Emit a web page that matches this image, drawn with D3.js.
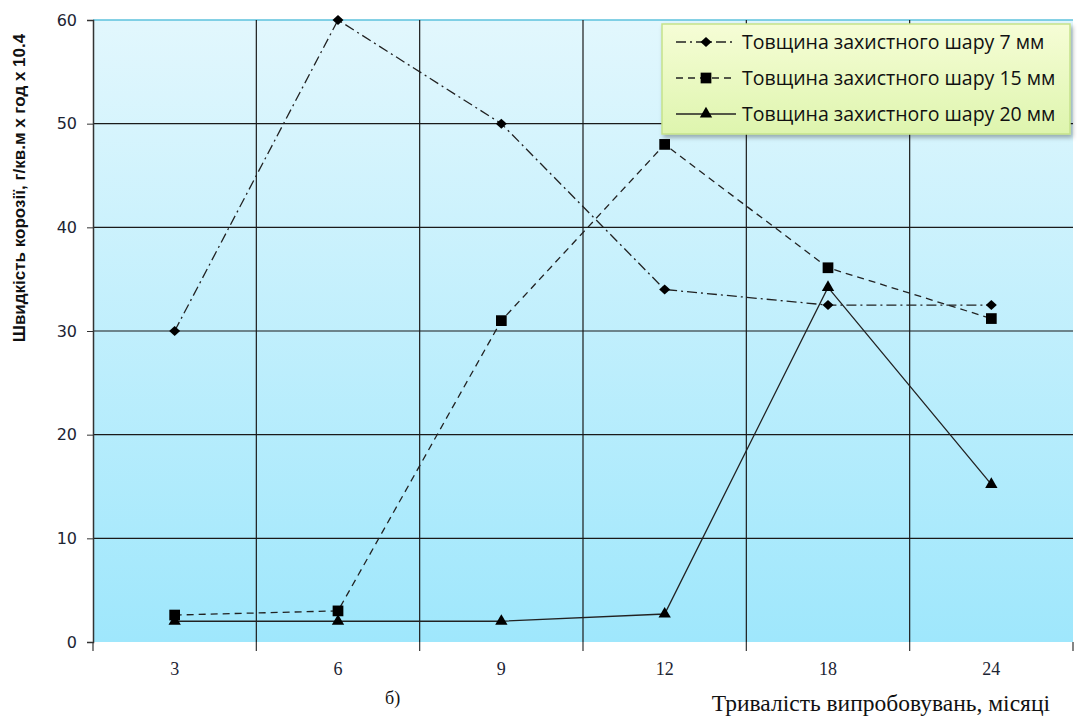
<!DOCTYPE html>
<html lang="uk">
<head>
  <meta charset="utf-8">
  <title>Швидкість корозії</title>
  <script src="https://d3js.org/d3.v7.min.js"></script>
  <style>
    body { margin: 0; background: #fff; }
    .tick-y { font: 16px "DejaVu Sans", sans-serif; fill: #1c2433; }
    .tick-x { font: 18px "Liberation Serif", serif; fill: #1c2433; }
    .legend text { font: 19.5px "Open Sans", sans-serif; fill: #111; }
  </style>
</head>
<body>
<div id="chart"></div>
<script>
"use strict"

// дані
var months = ["3", "6", "9", "12", "18", "24"];
var yTicks = [0, 10, 20, 30, 40, 50, 60];
var seriesNames = ["Товщина захистного шару 7 мм", "Товщина захистного шару 15 мм", "Товщина захистного шару 20 мм"];
var s7 = [30, 60, 50, 34, 32.5, 32.5];
var s15 = [2.6, 3.0, 31, 48, 36.1, 31.2];
var s20 = [2.0, 2.0, 2.0, 2.7, 34.2, 15.2];

var W = 1077, H = 718;
var margin = {top: 20, right: 4, bottom: 76, left: 93};

var svg = d3.select("#chart").append("svg")
  .attr("width", W).attr("height", H);

var x = d3.scaleBand().domain(months).range([margin.left, W - margin.right]).padding(0);
var y = d3.scaleLinear().domain([0, 60]).range([H - margin.bottom, margin.top]);

var defs = svg.append("defs");
var bg = defs.append("linearGradient").attr("id", "bg").attr("x1", 0).attr("y1", 0).attr("x2", 0).attr("y2", 1);
bg.append("stop").attr("offset", "0%").attr("stop-color", "#e2f7fd");
bg.append("stop").attr("offset", "100%").attr("stop-color", "#9fe7fc");
var lg = defs.append("linearGradient").attr("id", "lg").attr("x1", 0).attr("y1", 0).attr("x2", 0).attr("y2", 1);
lg.append("stop").attr("offset", "0%").attr("stop-color", "#f6fdd6");
lg.append("stop").attr("offset", "100%").attr("stop-color", "#def5ae");
var sh = defs.append("filter").attr("id", "sh").attr("x", "-10%").attr("y", "-10%").attr("width", "130%").attr("height", "140%");
sh.append("feDropShadow").attr("dx", 2).attr("dy", 3).attr("stdDeviation", 2).attr("flood-color", "#000").attr("flood-opacity", 0.3);

// фон області побудови
svg.append("rect")
  .attr("x", margin.left).attr("y", margin.top)
  .attr("width", W - margin.right - margin.left)
  .attr("height", y(0) - margin.top)
  .attr("fill", "url(#bg)");

// горизонтальна сітка
svg.append("g").selectAll("line")
  .data(yTicks.filter(d => d > 0 && d < 60))
  .enter().append("line")
    .attr("x1", margin.left).attr("x2", W - margin.right)
    .attr("y1", d => y(d)).attr("y2", d => y(d))
    .attr("stroke", "#1a1a1a").attr("stroke-width", 1.2);

svg.append("line")
  .attr("x1", margin.left).attr("x2", W - margin.right)
  .attr("y1", y(60)).attr("y2", y(60))
  .attr("stroke", "#5cc2dc").attr("stroke-width", 1.5);

// вертикальна сітка по межах категорій
var bounds = months.map(m => x(m)).concat([x.range()[1]]);
svg.append("g").selectAll("line")
  .data(bounds.slice(1, -1))
  .enter().append("line")
    .attr("x1", d => d).attr("x2", d => d)
    .attr("y1", margin.top).attr("y2", y(0))
    .attr("stroke", "#1a1a1a").attr("stroke-width", 1.2);

// вісь Y
var yAxis = svg.append("g").attr("transform", "translate(" + margin.left + ",0)")
  .call(d3.axisLeft(y).tickValues(yTicks).tickSize(6).tickPadding(10));
yAxis.select(".domain").attr("stroke", "#333").attr("stroke-width", 1.5);
yAxis.selectAll(".tick line").attr("stroke", "#333");
yAxis.selectAll("text").attr("class", "tick-y").attr("fill", null);

// вісь X
var xAxis = svg.append("g").attr("transform", "translate(0," + y(0) + ")");
xAxis.append("line")
  .attr("x1", margin.left).attr("x2", W - margin.right)
  .attr("y1", 1).attr("y2", 1)
  .attr("stroke", "#333").attr("stroke-width", 2)
  .attr("filter", "url(#sh)");
xAxis.selectAll(".bt").data(bounds).enter().append("line")
  .attr("x1", d => d).attr("x2", d => d)
  .attr("y1", 0).attr("y2", 9)
  .attr("stroke", "#333").attr("stroke-width", 1.2);
xAxis.selectAll(".tick-x").data(months).enter().append("text")
  .attr("class", "tick-x")
  .attr("x", d => x(d) + x.bandwidth() / 2)
  .attr("y", 33)
  .attr("text-anchor", "middle")
  .text(d => d);

// підписи осей
svg.append("text")
  .attr("transform", "translate(25,188) rotate(-90)")
  .attr("text-anchor", "middle")
  .style("font", "bold 17px 'Liberation Sans', sans-serif")
  .attr("fill", "#111")
  .text("Швидкість корозії, г/кв.м х год х 10.4");

svg.append("text")
  .attr("x", 1050).attr("y", 711)
  .attr("text-anchor", "end")
  .style("font", "23.5px 'Liberation Serif', serif")
  .attr("fill", "#111")
  .text("Тривалість випробовувань, місяці");

svg.append("text")
  .attr("x", 385).attr("y", 704)
  .style("font", "18px 'Liberation Serif', serif")
  .attr("fill", "#111")
  .text("б)");

// серії
var diamond = {draw: function(ctx, size) {
  var r = Math.sqrt(size) / 1.6;
  ctx.moveTo(0, -r); ctx.lineTo(r * 1.1, 0); ctx.lineTo(0, r); ctx.lineTo(-r * 1.1, 0); ctx.closePath();
}};
var series = [
  {name: seriesNames[0], values: s7, dash: "10,4,2,4", symbol: diamond, size: 64},
  {name: seriesNames[1], values: s15, dash: "7,5", symbol: d3.symbolSquare, size: 115},
  {name: seriesNames[2], values: s20, dash: null, symbol: d3.symbolTriangle, size: 66}
];

var line = d3.line()
  .x((d, i) => x(months[i]) + x.bandwidth() / 2)
  .y(d => y(d));

series.forEach(function(s) {
  svg.append("path")
    .datum(s.values)
    .attr("d", line)
    .attr("fill", "none")
    .attr("stroke", "#222")
    .attr("stroke-width", 1.3)
    .attr("stroke-dasharray", s.dash);
  svg.append("g").selectAll("path")
    .data(s.values)
    .enter().append("path")
      .attr("transform", (d, i) => "translate(" + (x(months[i]) + x.bandwidth() / 2) + "," + y(d) + ")")
      .attr("d", d3.symbol().type(s.symbol).size(s.size))
      .attr("fill", "#000");
});

// легенда
var legend = svg.append("g").attr("class", "legend").attr("transform", "translate(662,24)");
legend.append("rect")
  .attr("width", 408).attr("height", 110)
  .attr("fill", "url(#lg)")
  .attr("stroke", "#c5e28a").attr("stroke-width", 1.5)
  .attr("filter", "url(#sh)");
series.forEach(function(s, i) {
  var gy = 18 + i * 36;
  legend.append("line")
    .attr("x1", 14).attr("x2", 74).attr("y1", gy).attr("y2", gy)
    .attr("stroke", "#222").attr("stroke-width", 1.3)
    .attr("stroke-dasharray", s.dash);
  legend.append("path")
    .attr("transform", "translate(44," + gy + ")")
    .attr("d", d3.symbol().type(s.symbol).size(s.size))
    .attr("fill", "#000");
  legend.append("text")
    .attr("x", 80).attr("y", gy + 7)
    .text(s.name);
});
</script>
</body>
</html>
